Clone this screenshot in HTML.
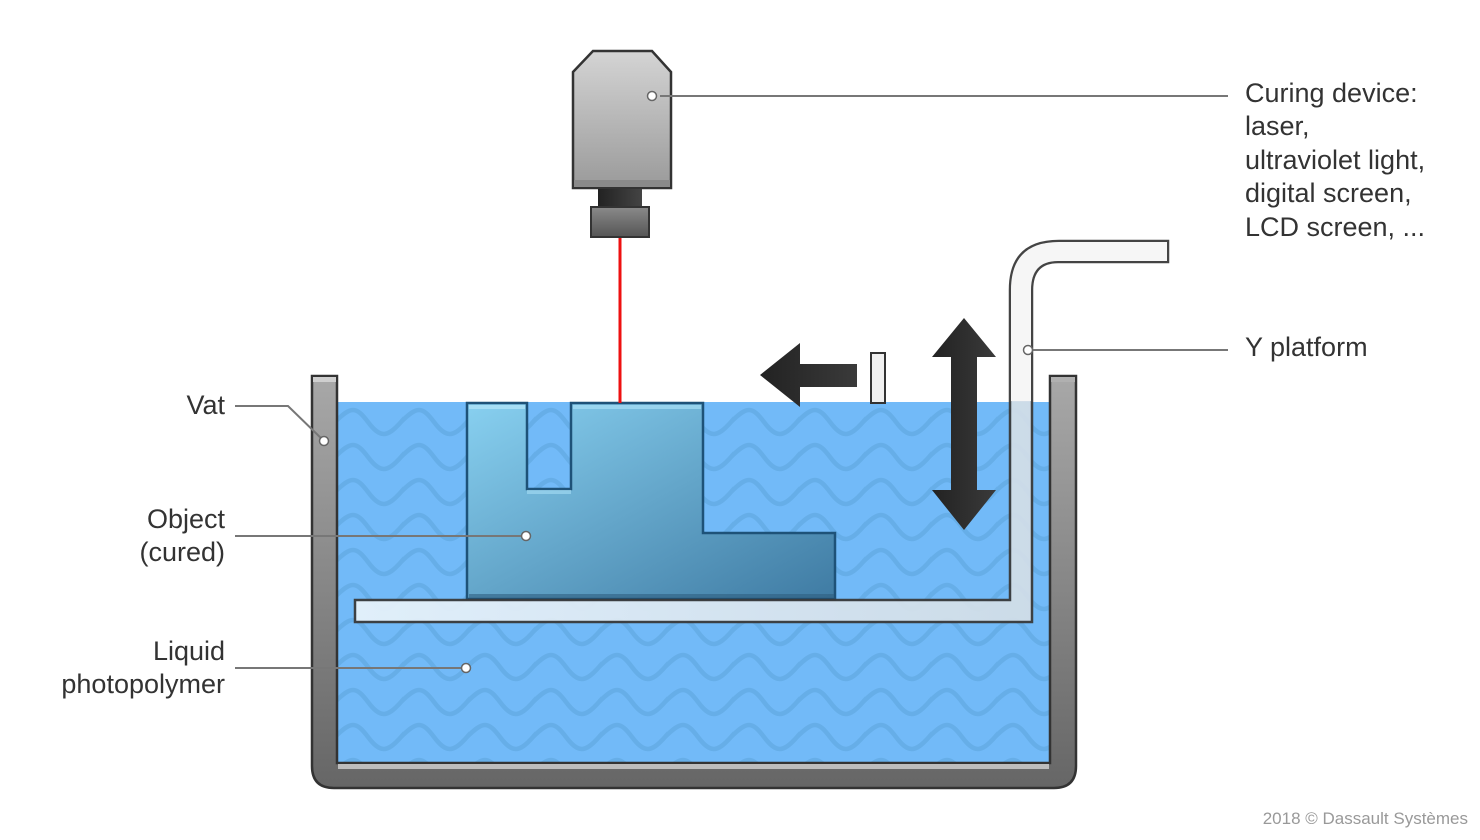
<!DOCTYPE html>
<html><head><meta charset="utf-8"><style>
html,body{margin:0;padding:0;background:#fff;}
svg{display:block;}
text{font-family:"Liberation Sans",sans-serif;fill:#333;font-size:27px;}
</style></head><body>
<svg width="1480" height="840" viewBox="0 0 1480 840" xmlns="http://www.w3.org/2000/svg">
<defs>
<pattern id="wave" x="337" y="402" width="66" height="35" patternUnits="userSpaceOnUse">
<rect width="66" height="35" fill="#72baf8"/>
<path d="M-2 20 C 14 4, 19 4, 31 20 S 50 36, 64 20 S 80 4, 97 20" fill="none" stroke="#66aee8" stroke-width="4.5"/>
</pattern>
<linearGradient id="cam" x1="0" y1="0" x2="0" y2="1"><stop offset="0" stop-color="#d4d4d4"/><stop offset="1" stop-color="#9a9a9a"/></linearGradient>
<linearGradient id="neck" x1="0" y1="0" x2="1" y2="0"><stop offset="0" stop-color="#222"/><stop offset="1" stop-color="#444"/></linearGradient>
<linearGradient id="lens" x1="0" y1="0" x2="0" y2="1"><stop offset="0" stop-color="#8a8a8a"/><stop offset="1" stop-color="#555"/></linearGradient>
<linearGradient id="vat" x1="0" y1="0" x2="0" y2="1"><stop offset="0" stop-color="#a8a8a8"/><stop offset="1" stop-color="#666"/></linearGradient>
<linearGradient id="obj" x1="0" y1="0" x2="1" y2="1"><stop offset="0" stop-color="#88d0f0"/><stop offset="1" stop-color="#3f7ba3"/></linearGradient>
<linearGradient id="arr" x1="0" y1="0" x2="1" y2="0"><stop offset="0" stop-color="#222"/><stop offset="1" stop-color="#3a3a3a"/></linearGradient>
<linearGradient id="plat" x1="0" y1="0" x2="1" y2="0"><stop offset="0" stop-color="#e6f2fb"/><stop offset="1" stop-color="#ccd9e4"/></linearGradient>
</defs>

<rect x="337" y="402" width="713" height="362" fill="url(#wave)"/>

<path d="M312 376 H337 V763 H1050 V376 H1076 V766 Q1076 788 1054 788 H334 Q312 788 312 766 Z" fill="url(#vat)" stroke="#333" stroke-width="2.5"/>
<rect x="313" y="377" width="23" height="5" fill="#cfcfcf"/>
<rect x="1051" y="377" width="24" height="5" fill="#b0b0b0"/>
<rect x="338" y="764" width="711" height="5" fill="#bdbdbd"/>

<path d="M467 403 H527 V489 H571 V403 H703 V533 H835 V599 H467 Z" fill="url(#obj)" stroke="#1e5278" stroke-width="2.5"/>
<rect x="469" y="405" width="56" height="4" fill="#a6def5"/>
<rect x="573" y="405" width="128" height="4" fill="#a6def5" opacity="0.7"/>
<rect x="527" y="490" width="44" height="4" fill="#a6def5" opacity="0.6"/>
<rect x="469" y="594" width="365" height="4" fill="#2f5f80" opacity="0.6"/>

<path d="M1010 600 V290 Q1010 241 1059 241 H1168 V262 H1058 Q1032 262 1032 290 V622 H355 V600 Z" fill="url(#plat)" stroke="#3a3a3a" stroke-width="2.5" opacity="0.95"/>
<path d="M1011 290 Q1011 242 1059 242 H1167 V261 H1058 Q1031 261 1031 290 V401 H1011 Z" fill="#f6f6f6"/>

<path d="M573 72 L593 51 H652 L671 72 V188 H573 Z" fill="url(#cam)" stroke="#333" stroke-width="2.5"/>
<rect x="574" y="180" width="96" height="7" fill="#8a8a8a"/>
<rect x="598" y="189" width="44" height="18" fill="url(#neck)"/>
<rect x="591" y="207" width="58" height="30" fill="url(#lens)" stroke="#333" stroke-width="2"/>
<line x1="620" y1="238" x2="620" y2="403" stroke="#ee1111" stroke-width="3"/>

<path d="M760 375 L800 343 V364 H857 V387 H800 V407 Z" fill="url(#arr)"/>
<rect x="871" y="353" width="14" height="50" fill="#f0f0f0" stroke="#333" stroke-width="2"/>

<path d="M964 318 L996 357 H977 V490 H996 L964 530 L932 490 H951 V357 H932 Z" fill="url(#arr)"/>

<g stroke="#777" stroke-width="2" fill="none">
<line x1="660" y1="96" x2="1228" y2="96"/>
<line x1="1028" y1="350" x2="1228" y2="350"/>
<polyline points="235,406 288,406 324,441"/>
<line x1="235" y1="536" x2="526" y2="536"/>
<line x1="235" y1="668" x2="466" y2="668"/>
</g>
<g fill="#fff" stroke="#666" stroke-width="1.5">
<circle cx="652" cy="96" r="4.5"/>
<circle cx="1028" cy="350" r="4.5"/>
<circle cx="324" cy="441" r="4.5"/>
<circle cx="526" cy="536" r="4.5"/>
<circle cx="466" cy="668" r="4.5"/>
</g>

<text x="1245" y="102">Curing device:</text>
<text x="1245" y="135">laser,</text>
<text x="1245" y="169">ultraviolet light,</text>
<text x="1245" y="202">digital screen,</text>
<text x="1245" y="236">LCD screen, ...</text>
<text x="1245" y="356">Y platform</text>
<g text-anchor="end">
<text x="225" y="414">Vat</text>
<text x="225" y="528">Object</text>
<text x="225" y="561">(cured)</text>
<text x="225" y="660">Liquid</text>
<text x="225" y="693">photopolymer</text>
</g>
<text x="1468" y="824" text-anchor="end" style="font-size:17px;fill:#999;">2018 © Dassault Systèmes</text>
</svg>
</body></html>
